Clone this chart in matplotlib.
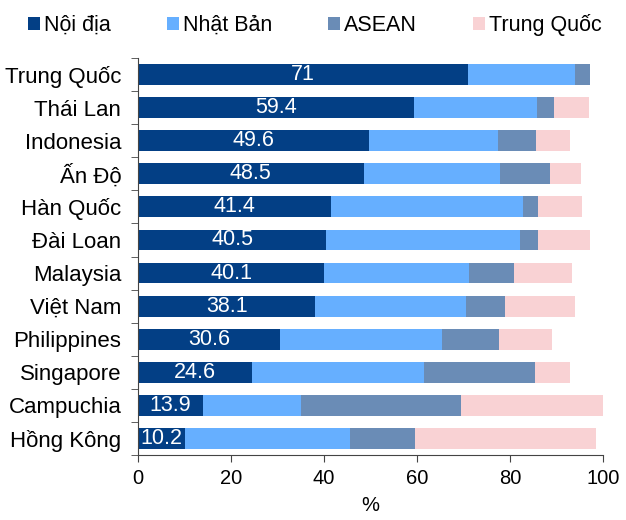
import numpy as np
import matplotlib.pyplot as plt

plt.rcParams['font.family'] = ['Liberation Sans', 'DejaVu Sans']

countries = ['Trung Quốc', 'Thái Lan', 'Indonesia', 'Ấn Độ', 'Hàn Quốc', 'Đài Loan',
             'Malaysia', 'Việt Nam', 'Philippines', 'Singapore', 'Campuchia', 'Hồng Kông']
noi_dia = [71, 59.4, 49.6, 48.5, 41.4, 40.5, 40.1, 38.1, 30.6, 24.6, 13.9, 10.2]
nhat_ban = [23.0, 26.5, 27.9, 29.4, 41.3, 41.7, 31.1, 32.5, 34.8, 36.8, 21.1, 35.3]
asean = [3.1, 3.5, 8.0, 10.6, 3.4, 3.9, 9.7, 8.4, 12.3, 24.0, 34.4, 14.0]
trung_quoc = [0.0, 7.5, 7.4, 6.8, 9.4, 11.0, 12.5, 15.0, 11.3, 7.4, 30.7, 38.9]

series = [('Nội địa', noi_dia, '#033F85'),
          ('Nhật Bản', nhat_ban, '#66AFFF'),
          ('ASEAN', asean, '#6A8CB6'),
          ('Trung Quốc', trung_quoc, '#F9D2D4')]

fig = plt.figure(figsize=(6.26, 5.2), dpi=100)
ax = fig.add_axes([138 / 626, 65 / 520, 465 / 626, 397 / 520])

y = np.arange(len(countries))
left = np.zeros(len(countries))
for name, vals, col in series:
    vals = np.array(vals)
    ax.barh(y, vals, left=left, height=0.63, color=col, label=name)
    left += vals

# nhãn giá trị nội địa
for i, v in enumerate(noi_dia):
    ax.text(v / 2, y[i], f'{v:g}', ha='center', va='center', color='white', fontsize=15.5)

ax.set_xlim(0, 100)
ax.set_ylim(len(countries) - 0.5, -0.5)
ax.set_yticks(y)
ax.set_yticklabels(countries, fontsize=16)
ax.set_yticks(np.arange(-0.5, len(countries)), minor=True)
ax.tick_params(axis='y', which='major', length=0, pad=12)
ax.tick_params(axis='y', which='minor', length=5, direction='out', color='#444444')
ax.set_xticks(np.arange(0, 101, 20))
ax.tick_params(axis='x', labelsize=14.5, length=5, color='#444444', pad=5)
ax.set_xlabel('%', fontsize=14.5, labelpad=6)
for s in ['top', 'right']:
    ax.spines[s].set_visible(False)
for s in ['left', 'bottom']:
    ax.spines[s].set_color('#444444')

fig.legend(loc='upper left', bbox_to_anchor=(28 / 626, 1 - 14 / 520), ncol=4, frameon=False,
           fontsize=15.5, handlelength=0.56, handleheight=0.56, handletextpad=0.18,
           columnspacing=2.6, borderpad=0, borderaxespad=0)

fig.savefig('out.png', dpi=100)
